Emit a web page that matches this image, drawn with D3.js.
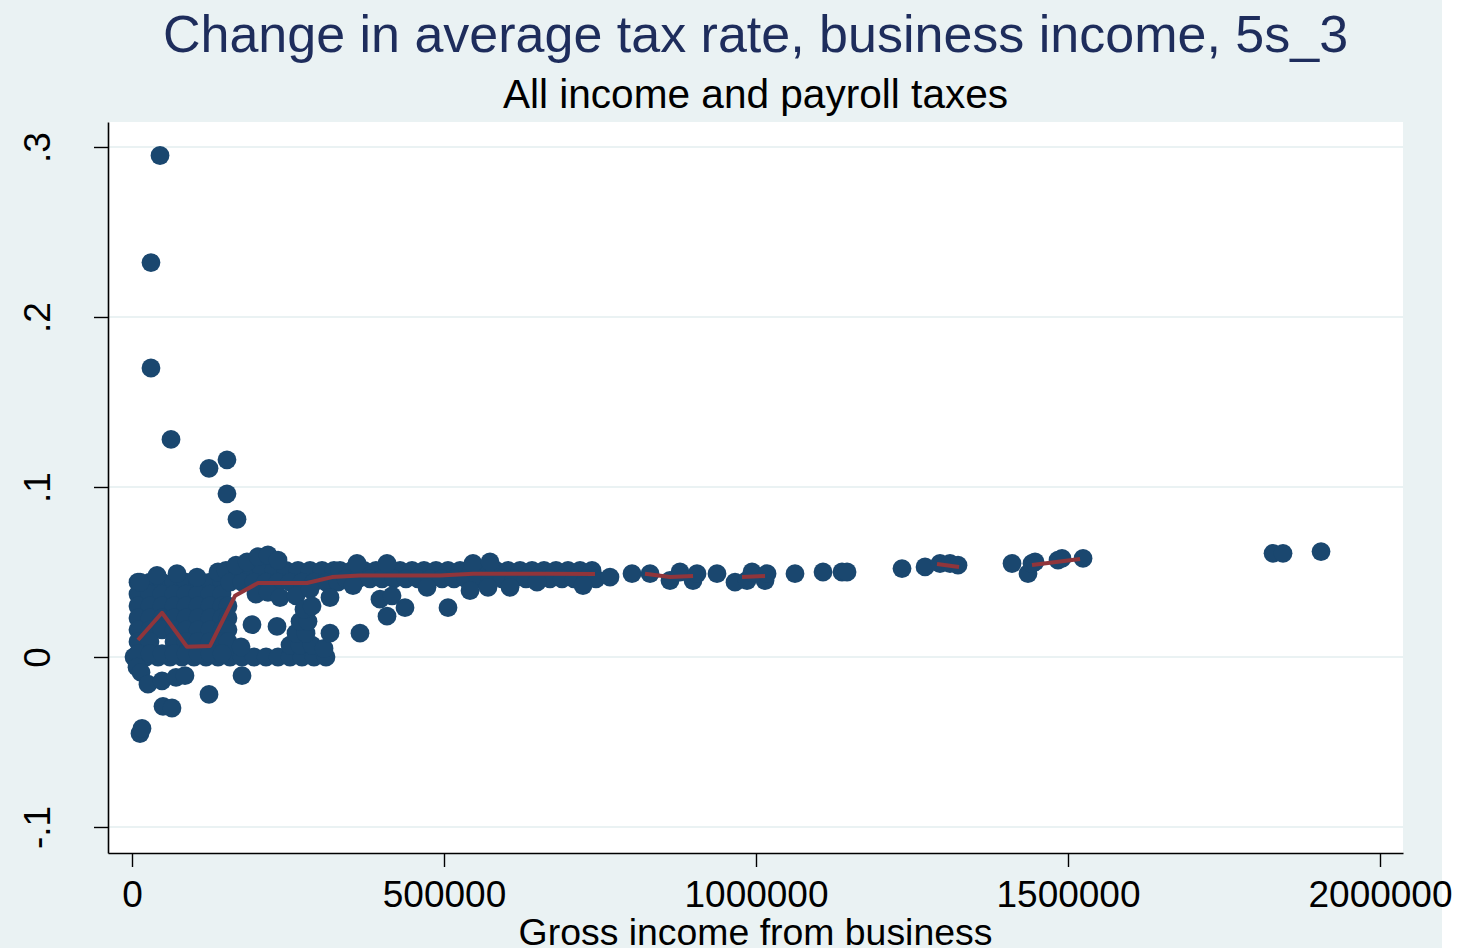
<!DOCTYPE html>
<html><head><meta charset="utf-8">
<script src="https://cdn.jsdelivr.net/npm/d3@7"></script>
<style>
html,body{margin:0;padding:0;background:#ffffff;}
svg{display:block;}
text{font-family:"Liberation Sans", Arial, Helvetica, sans-serif;}
</style></head><body>
<svg id="chart" width="1457" height="948"></svg>
<script>
// ---------- text ----------
const titleText = "Change in average tax rate, business income, 5s_3";
const subtitleText = "All income and payroll taxes";
const xAxisTitle = "Gross income from business";

// ---------- ticks ----------
const xTicks = [0, 500000, 1000000, 1500000, 2000000];
const xTickLabels = ["0", "500000", "1000000", "1500000", "2000000"];
const yTicks = [-0.1, 0, 0.1, 0.2, 0.3];
const yTickLabels = ["-.1", "0", ".1", ".2", ".3"];

// ---------- scatter: [gross business income, change in average tax rate] ----------
const outlierPoints = [
  [44900, 0.295], [30400, 0.232], [30400, 0.170], [62500, 0.128],
  [123400, 0.111], [152200, 0.116], [152200, 0.096], [168300, 0.081],
  [123400, -0.022], [49700, -0.029], [64100, -0.030], [12800, -0.045], [16000, -0.042]
];
const lowIncomePoints = [
  [9600, 0.044], [28800, 0.044], [48100, 0.044], [67300, 0.044], [86500, 0.044], [105800, 0.044], [125000, 0.044], [144200, 0.044],
  [9600, 0.037], [28800, 0.037], [48100, 0.037], [67300, 0.037], [86500, 0.037], [105800, 0.037], [125000, 0.037], [144200, 0.037],
  [9600, 0.030], [28800, 0.030], [48100, 0.030], [67300, 0.030], [86500, 0.030], [105800, 0.030], [125000, 0.030], [144200, 0.030], [153800, 0.030],
  [9600, 0.023], [28800, 0.023], [48100, 0.023], [67300, 0.023], [86500, 0.023], [105800, 0.023], [125000, 0.023], [144200, 0.023], [153800, 0.023],
  [9600, 0.016], [28800, 0.016], [48100, 0.016], [67300, 0.016], [86500, 0.016], [105800, 0.016], [125000, 0.016], [144200, 0.016], [153800, 0.016],
  [9600, 0.009], [28800, 0.009], [67300, 0.009], [86500, 0.009], [105800, 0.009], [125000, 0.009], [144200, 0.009], [153800, 0.009],
  [9600, 0.002], [28800, 0.002], [48100, 0.002], [67300, 0.002], [86500, 0.002], [105800, 0.002], [125000, 0.002], [144200, 0.002],
  [12800, 0.044], [40100, 0.048], [72100, 0.049], [104200, 0.047], [137800, 0.050],
  [8000, -0.006], [14400, -0.009], [25600, -0.016], [48100, -0.014], [70500, -0.012], [84900, -0.011], [176300, -0.011]
];
const zeroPoints = [
  [3200, 0], [22400, 0], [41700, 0], [60900, 0], [80100, 0], [99400, 0], [118600, 0], [137800, 0], [157100, 0],
  [176300, 0], [195500, 0], [214800, 0], [234000, 0], [253200, 0], [272400, 0], [291700, 0], [310900, 0]
];
const midIncomePoints = [
  [150600, 0.051], [169900, 0.051], [189100, 0.051], [208300, 0.051], [227600, 0.051], [246800, 0.051], [266000, 0.051], [285300, 0.051], [304500, 0.051], [323700, 0.051],
  [157100, 0.044], [176300, 0.044], [195500, 0.044], [214800, 0.044], [234000, 0.044], [253200, 0.044], [272400, 0.044], [291700, 0.044], [310900, 0.044], [330100, 0.044],
  [198700, 0.037], [217900, 0.038], [237200, 0.035], [262800, 0.036], [285300, 0.040], [317300, 0.035],
  [166700, 0.054], [184300, 0.056], [201900, 0.059], [217900, 0.060], [234000, 0.057],
  [192300, 0.019], [232400, 0.018], [174700, 0.006],
  [253200, 0.007], [269200, 0.007], [288500, 0.007], [307700, 0.005], [262800, 0.014], [278900, 0.014],
  [269200, 0.021], [282100, 0.021], [275600, 0.028], [288500, 0.030],
  [317300, 0.014], [365400, 0.014]
];
const bandPoints = [
  [333300, 0.051], [352600, 0.051], [371800, 0.051], [391000, 0.051], [410300, 0.051], [429500, 0.051], [448700, 0.051], [468000, 0.051],
  [487200, 0.051], [506400, 0.051], [525700, 0.051], [544900, 0.051], [564100, 0.051], [583300, 0.051], [602600, 0.051], [621800, 0.051],
  [641000, 0.051], [660300, 0.051], [679500, 0.051], [698700, 0.051], [718000, 0.051], [737200, 0.051],
  [343000, 0.046], [362200, 0.046], [381400, 0.046], [400700, 0.046], [419900, 0.046], [439100, 0.046], [458300, 0.046], [477600, 0.046],
  [496800, 0.046], [516000, 0.046], [535300, 0.046], [554500, 0.046], [573700, 0.046], [593000, 0.046], [612200, 0.046], [631400, 0.046],
  [650700, 0.046], [669900, 0.046], [689100, 0.046], [708300, 0.046], [727600, 0.046], [743600, 0.046],
  [354200, 0.042], [397400, 0.034], [408700, 0.024], [437500, 0.029], [416700, 0.036], [506400, 0.029], [472800, 0.041],
  [570500, 0.041], [605800, 0.041], [649100, 0.044], [722800, 0.042], [541700, 0.039],
  [360600, 0.055], [408700, 0.055], [546500, 0.055], [573700, 0.056]
];
const highIncomePoints = [
  [766000, 0.047], [801300, 0.049], [830200, 0.049], [862200, 0.045], [878200, 0.050], [899100, 0.045], [905500, 0.049],
  [937500, 0.049], [966400, 0.044], [985600, 0.045], [993600, 0.050], [1014500, 0.045], [1017700, 0.049], [1062500, 0.049],
  [1107400, 0.050], [1137800, 0.050], [1145900, 0.050], [1234000, 0.052], [1270900, 0.053], [1294900, 0.055], [1310900, 0.055],
  [1323700, 0.054], [1410300, 0.055], [1435900, 0.049], [1442300, 0.055], [1447200, 0.056], [1484000, 0.057], [1490400, 0.058],
  [1524100, 0.058], [1828600, 0.061], [1844600, 0.061], [1905500, 0.062]
];

// ---------- fitted line (null = gap between bins) ----------
const fitX = [9600, 48100, 88100, 125000, 165100, 201900, 280500, 320500, 365400, 493600, 546500, 665100, 742000, null,
              822100, 862200, 899100, null, 977600, 1014500, null, 1290100, 1325400, null, 1442300, 1519300];
const fitY = [0.010, 0.026, 0.006, 0.0065, 0.036, 0.0435, 0.0435, 0.047, 0.048, 0.048, 0.049, 0.049, 0.0488, null,
              0.049, 0.047, 0.0476, null, 0.047, 0.0476, null, 0.0547, 0.0529, null, 0.0541, 0.0576];

// ---------- colours ----------
const bgColor = "#EAF2F3";
const markerColor = "#1A476F";
const fitColor = "#90353B";
const titleColor = "#1E2D5C";

// ---------- layout ----------
const W = 1457, H = 948;
const plot = {left: 108, right: 1403, top: 122, bottom: 853};

const svg = d3.select("#chart");
svg.append("rect").attr("x", 0).attr("y", 0).attr("width", 1442).attr("height", H).attr("fill", bgColor);
svg.append("rect").attr("x", plot.left).attr("y", plot.top)
  .attr("width", plot.right - plot.left).attr("height", plot.bottom - plot.top).attr("fill", "#ffffff");

const x = d3.scaleLinear().domain([-38460, 2036860]).range([plot.left, plot.right]);
const y = d3.scaleLinear().domain([-0.1153, 0.3147]).range([plot.bottom, plot.top]);

// gridlines
svg.append("g").selectAll("line").data(yTicks).join("line")
  .attr("x1", plot.left).attr("x2", plot.right)
  .attr("y1", d => y(d)).attr("y2", d => y(d))
  .attr("stroke", bgColor).attr("stroke-width", 2.2);

// points
const allPoints = [].concat(zeroPoints, lowIncomePoints, midIncomePoints, bandPoints, highIncomePoints, outlierPoints);
svg.append("g").selectAll("circle").data(allPoints).join("circle")
  .attr("cx", d => x(d[0])).attr("cy", d => y(d[1])).attr("r", 9.4)
  .attr("fill", markerColor);

// fitted line
const fitData = fitX.map((v, i) => [v, fitY[i]]);
const line = d3.line().defined(d => d[0] !== null).x(d => x(d[0])).y(d => y(d[1]));
svg.append("path").datum(fitData).attr("d", line)
  .attr("fill", "none").attr("stroke", fitColor).attr("stroke-width", 4)
  .attr("stroke-linejoin", "round");

// axes
const fmtX = d => xTickLabels[xTicks.indexOf(d)];
const fmtY = d => yTickLabels[yTicks.indexOf(d)];

const gx = svg.append("g").attr("transform", `translate(0,${plot.bottom})`)
  .call(d3.axisBottom(x).tickValues(xTicks).tickFormat(fmtX).tickSize(14).tickSizeOuter(0));
gx.selectAll("path.domain").attr("stroke", "#000").attr("stroke-width", 1.6);
gx.selectAll(".tick line").attr("stroke", "#000").attr("stroke-width", 1.4);
gx.selectAll(".tick text").attr("y", 54).attr("dy", 0)
  .attr("font-size", 37).attr("fill", "#000")
  .style("font-family", '"Liberation Sans", Arial, sans-serif');

const gy = svg.append("g").attr("transform", `translate(${plot.left},0)`)
  .call(d3.axisLeft(y).tickValues(yTicks).tickFormat(fmtY).tickSize(14).tickSizeOuter(0));
gy.selectAll("path.domain").attr("stroke", "#000").attr("stroke-width", 1.6);
gy.selectAll(".tick line").attr("stroke", "#000").attr("stroke-width", 1.4);
gy.selectAll(".tick text").attr("x", 0).attr("y", 0).attr("dy", 0)
  .attr("text-anchor", "middle")
  .attr("transform", "translate(-58,0) rotate(-90)")
  .attr("font-size", 37).attr("fill", "#000")
  .style("font-family", '"Liberation Sans", Arial, sans-serif');

// titles
const cx = (plot.left + plot.right) / 2;
svg.append("text").attr("x", cx).attr("y", 52).attr("text-anchor", "middle")
  .attr("font-size", 52).attr("fill", titleColor).text(titleText);
svg.append("text").attr("x", cx).attr("y", 108).attr("text-anchor", "middle")
  .attr("font-size", 40.6).attr("fill", "#000").text(subtitleText);
svg.append("text").attr("x", cx).attr("y", 945).attr("text-anchor", "middle")
  .attr("font-size", 37.4).attr("fill", "#000").text(xAxisTitle);
</script>
</body></html>
